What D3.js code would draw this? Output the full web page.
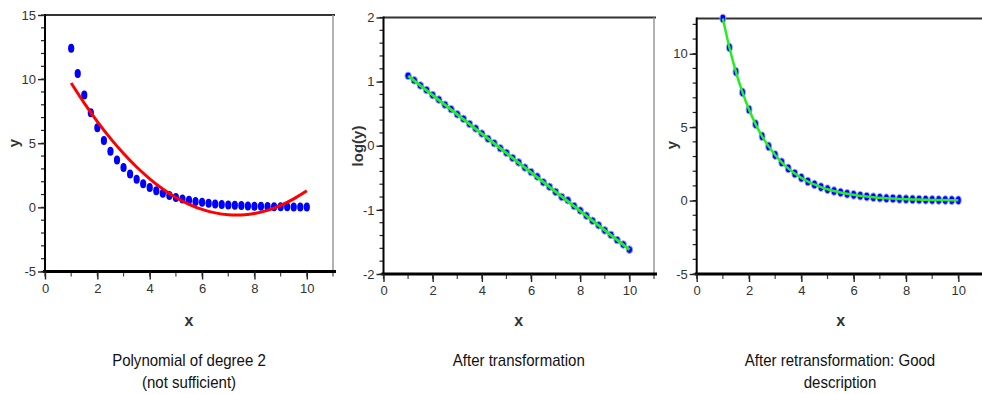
<!DOCTYPE html>
<html><head><meta charset="utf-8">
<script src="https://cdn.jsdelivr.net/npm/d3@7"></script>
<style>
body{margin:0;background:#fff;}
svg{display:block;font-family:"Liberation Sans",Arial,sans-serif;}
</style></head>
<body><svg id="c" width="982" height="394"></svg>
<script>
// ---- data ----
const xValues = [1,1.25,1.5,1.75,2,2.25,2.5,2.75,3,3.25,3.5,3.75,4,4.25,4.5,4.75,5,5.25,5.5,5.75,6,6.25,6.5,6.75,7,7.25,7.5,7.75,8,8.25,8.5,8.75,9,9.25,9.5,9.75,10];
const yValues = [12.4,10.43,8.77,7.37,6.2,5.21,4.38,3.69,3.1,2.61,2.19,1.84,1.55,1.3,1.1,0.92,0.775,0.65,0.55,0.46,0.39,0.33,0.27,0.23,0.19,0.16,0.14,0.115,0.097,0.081,0.068,0.058,0.048,0.041,0.034,0.029,0.024];
const logYValues = [1.09,1.02,0.94,0.87,0.79,0.72,0.64,0.57,0.49,0.42,0.34,0.27,0.19,0.11,0.04,-0.04,-0.11,-0.19,-0.26,-0.34,-0.41,-0.48,-0.57,-0.64,-0.72,-0.8,-0.85,-0.94,-1.01,-1.09,-1.17,-1.24,-1.32,-1.39,-1.47,-1.54,-1.62];
const polyFitX = [1,1.5,2,2.5,3,3.5,4,4.5,5,5.5,6,6.5,7,7.5,8,8.5,9,9.5,10];
const polyFitY = [9.7,8.13,6.69,5.38,4.2,3.15,2.23,1.43,0.77,0.24,-0.16,-0.43,-0.58,-0.59,-0.47,-0.23,0.15,0.66,1.29];
const logFitX = [1,10];
const logFitY = [1.09,-1.62];
const expFitY = yValues;
const xTicks = [0,2,4,6,8,10];
const yTicks1 = [-5,0,5,10,15];
const yTicks2 = [-2,-1,0,1,2];
const yTicks3 = [-5,0,5,10];
const captions = [["Polynomial of degree 2","(not sufficient)"],["After transformation"],["After retransformation: Good","description"]];

const svg = d3.select("#c");

function panel(o){
  const g = svg.append("g");
  const x = d3.scaleLinear().domain([0,11]).range([o.x0,o.x1]);
  const y = d3.scaleLinear().domain(o.yDom).range([o.y0,o.y1]);
  // frame top & right
  g.append("line").attr("x1",o.x0).attr("x2",o.x1+2).attr("y1",o.y1).attr("y2",o.y1).attr("stroke","#333").attr("stroke-width",2);
  g.append("line").attr("x1",o.x1).attr("x2",o.x1).attr("y1",o.y1).attr("y2",o.y0).attr("stroke","#999").attr("stroke-width",1.5);
  // minor ticks
  const yMinor = d3.range(Math.ceil(o.yDom[0]/o.yMinor), Math.floor(o.yDom[1]/o.yMinor+1e-9)+1).map(v=>+(v*o.yMinor).toFixed(4));
  g.selectAll(".ym").data(yMinor).join("line").attr("x1",o.x0-4).attr("x2",o.x0).attr("y1",d=>y(d)).attr("y2",d=>y(d)).attr("stroke","#222").attr("stroke-width",1.2);
  g.selectAll(".xm").data(d3.range(0,12)).join("line").attr("x1",d=>x(d)).attr("x2",d=>x(d)).attr("y1",o.y0).attr("y2",o.y0+5).attr("stroke","#444").attr("stroke-width",1.2);
  // axes
  const ax = d3.axisBottom(x).tickValues(xTicks).tickSize(8).tickPadding(4).tickFormat(d=>String(d));
  const ay = d3.axisLeft(y).tickValues(o.yTicks).tickSize(7).tickPadding(2).tickFormat(d=>String(d));
  const gx = g.append("g").attr("transform",`translate(0,${o.y0})`).call(ax);
  const gy = g.append("g").attr("transform",`translate(${o.x0},0)`).call(ay);
  gx.select(".domain").attr("stroke","#000").attr("stroke-width",3).attr("d",`M${o.x0-2},0H${o.x1+3}`);
  gy.select(".domain").attr("stroke","#000").attr("stroke-width",2).attr("d",`M0,${o.y0}V${o.y1-1}`);
  [gx,gy].forEach(a=>{a.selectAll(".tick line").attr("stroke","#222").attr("stroke-width",1.4);
    a.selectAll("text").attr("fill","#333").attr("font-size",13).attr("font-family","Liberation Sans,Arial,sans-serif");});
  // axis titles
  g.append("text").attr("x",(o.x0+o.x1)/2).attr("y",326).attr("text-anchor","middle").attr("font-weight","bold").attr("font-size",16).attr("fill","#333").text("x");
  g.append("text").attr("transform",`translate(${o.ylx},${o.yly}) rotate(-90)`).attr("text-anchor","middle").attr("dy","0.35em").attr("font-weight","bold").attr("font-size",15).attr("fill","#333").text(o.ylabel);
  // caption
  const cx = (o.x0+o.x1)/2;
  o.caption.forEach((t,i)=>g.append("text").attr("transform",`translate(${o.capx||cx},${366+i*22}) scale(0.94,1)`).attr("text-anchor","middle").attr("font-size",16).attr("fill","#111").text(t));
  return {g,x,y};
}

// Panel 1
const p1 = panel({x0:45,x1:333,y0:271.5,y1:15,yDom:[-5,15],yTicks:yTicks1,yMinor:1,ylabel:"y",ylx:14,yly:143,caption:captions[0]});
p1.g.selectAll(".pt").data(xValues).join("ellipse").attr("cx",(d)=>p1.x(d)).attr("cy",(d,i)=>p1.y(yValues[i])).attr("rx",3.1).attr("ry",4.5).attr("fill","#0000ff");
p1.g.append("path").datum(polyFitX).attr("d",d3.line().x(d=>p1.x(d)).y((d,i)=>p1.y(polyFitY[i])).curve(d3.curveCatmullRom)).attr("fill","none").attr("stroke","#ff0000").attr("stroke-width",3);

// Panel 2
const p2 = panel({x0:383.5,x1:654,y0:274,y1:17.5,yDom:[-2,2],yTicks:yTicks2,yMinor:0.2,ylabel:"log(y)",ylx:358,yly:146,caption:captions[1]});
p2.g.selectAll(".pt").data(xValues).join("ellipse").attr("cx",d=>p2.x(d)).attr("cy",(d,i)=>p2.y(logYValues[i])).attr("rx",3.2).attr("ry",3.8).attr("fill","#0000ff").attr("stroke","#9aa8ff").attr("stroke-width",1);
p2.g.append("path").datum(logFitX).attr("d",d3.line().x(d=>p2.x(d)).y((d,i)=>p2.y(logFitY[i]))).attr("fill","none").attr("stroke","#22ee22").attr("stroke-width",3);

// Panel 3
const p3 = panel({x0:696.7,x1:984.5,y0:274,y1:18.5,yDom:[-5,12.4],yTicks:yTicks3,yMinor:1,ylabel:"y",ylx:672,yly:145,caption:captions[2],capx:840});
p3.g.selectAll(".pt").data(xValues).join("ellipse").attr("cx",d=>p3.x(d)).attr("cy",(d,i)=>p3.y(yValues[i])).attr("rx",2.9).attr("ry",4.3).attr("fill","#0000ff").attr("stroke","#9aa8ff").attr("stroke-width",1);
p3.g.append("path").datum(xValues).attr("d",d3.line().x(d=>p3.x(d)).y((d,i)=>p3.y(expFitY[i])).curve(d3.curveMonotoneX)).attr("fill","none").attr("stroke","#22ee22").attr("stroke-width",2.5);
</script></body></html>
